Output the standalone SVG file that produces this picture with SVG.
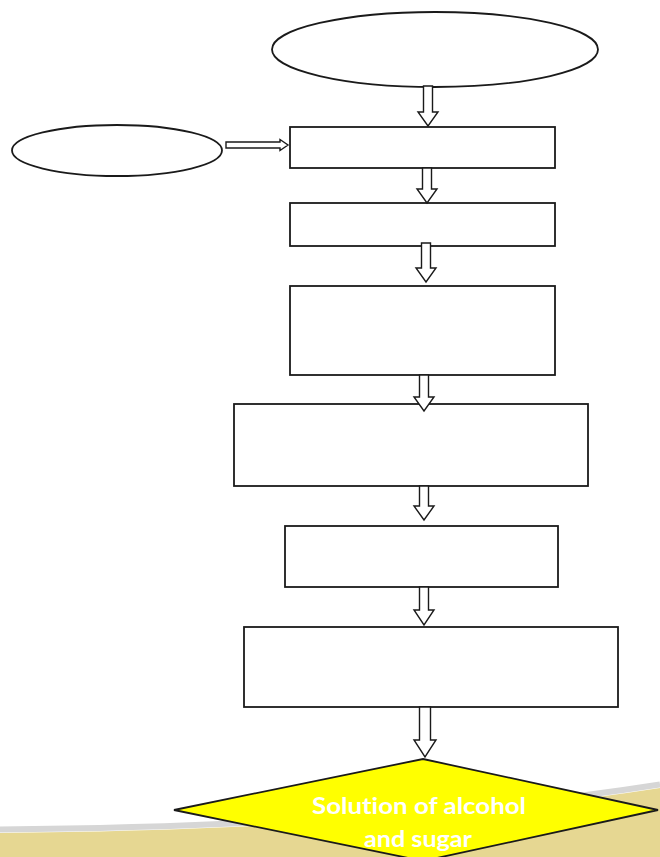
<svg xmlns="http://www.w3.org/2000/svg" width="660" height="857" viewBox="0 0 660 857">
  <style>
    .node { fill: #ffffff; stroke: #1a1a1a; stroke-width: 1.8; }
    .arrow { fill: #ffffff; stroke: #1a1a1a; stroke-width: 1.4; stroke-linejoin: miter; }
    .decision { fill: #ffff00; stroke: #1a1a1a; stroke-width: 1.8; }
    .label { font-family: Lato, "Liberation Sans", sans-serif; font-weight: bold; font-size: 23px; fill: #ffffff; text-anchor: middle; font-variant-ligatures: none; }
  </style>

  <!-- page background -->
  <rect x="0" y="0" width="660" height="857" fill="#ffffff"/>

  <!-- decorative swoosh along the bottom edge -->
  <g id="swoosh">
    <path d="M0,829.5 Q400,825.5 660,784.5" fill="none" stroke="#d6d6d6" stroke-width="6"/>
    <path d="M0,833 Q400,829 660,788 L660,857 L0,857 Z" fill="#e6d792"/>
  </g>

  <!-- nodes -->
  <g id="start">
    <ellipse class="node" cx="435" cy="49.5" rx="163" ry="37.5"/>
  </g>
  <g id="input">
    <ellipse class="node" cx="117" cy="150.5" rx="105" ry="25.5"/>
  </g>
  <g id="step1">
    <rect class="node" x="290" y="127" width="265" height="41"/>
  </g>
  <g id="step2">
    <rect class="node" x="290" y="203" width="265" height="43"/>
  </g>
  <g id="step3">
    <rect class="node" x="290" y="286" width="265" height="89"/>
  </g>
  <g id="step4">
    <rect class="node" x="234" y="404" width="354" height="82"/>
  </g>
  <g id="step5">
    <rect class="node" x="285" y="526" width="273" height="61"/>
  </g>
  <g id="step6">
    <rect class="node" x="244" y="627" width="374" height="80"/>
  </g>

  <!-- connectors: hollow block arrows -->
  <g id="connectors">
    <polygon class="arrow" points="423.5,86 432.5,86 432.5,112 438,112 428,126 418,112 423.5,112"/>
    <polygon class="arrow" points="422.5,168 431.5,168 431.5,189 437,189 427,203 417,189 422.5,189"/>
    <polygon class="arrow" points="421.5,243 430.5,243 430.5,268 436,268 426,282 416,268 421.5,268"/>
    <polygon class="arrow" points="419.5,375 428.5,375 428.5,397 434,397 424,411 414,397 419.5,397"/>
    <polygon class="arrow" points="419.5,486 428.5,486 428.5,506 434,506 424,520 414,506 419.5,506"/>
    <polygon class="arrow" points="419.5,587 428.5,587 428.5,610 434,610 424,625 414,610 419.5,610"/>
    <polygon class="arrow" points="419.5,707 430.5,707 430.5,740 436,740 425,757 414,740 419.5,740"/>
    <polygon class="arrow" points="226,142 280,142 280,139.5 288,145 280,150.5 280,148 226,148"/>
  </g>

  <!-- result -->
  <g id="result">
    <polygon class="decision" points="423,759 658,810 423,861 174,810"/>
    <text class="label" x="419" y="814" textLength="214" lengthAdjust="spacingAndGlyphs">Solution of alcohol</text>
    <text class="label" x="418" y="847" textLength="108" lengthAdjust="spacingAndGlyphs">and sugar</text>
  </g>
</svg>
